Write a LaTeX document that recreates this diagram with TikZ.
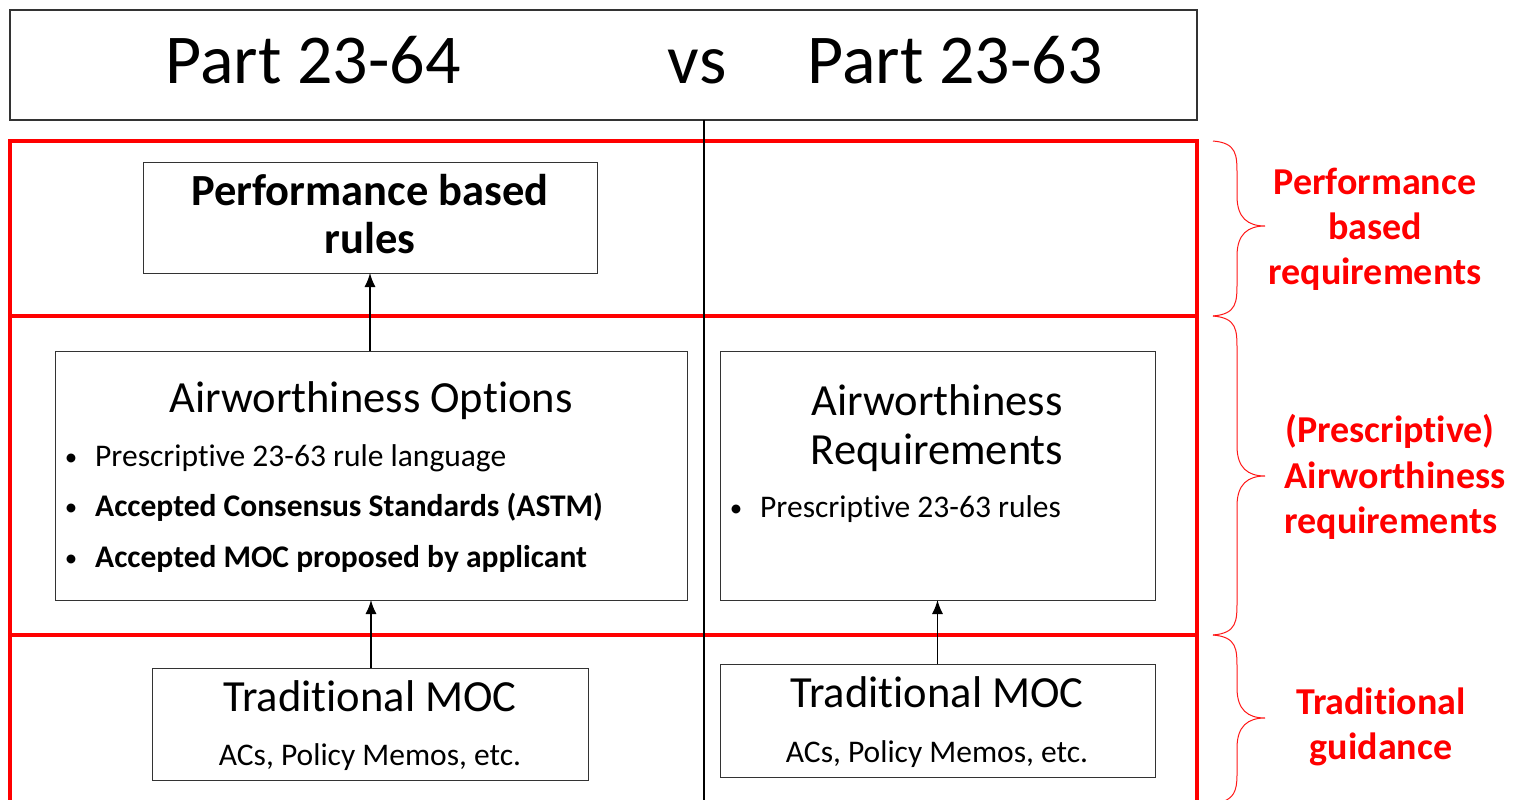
\documentclass[tikz,border=0pt]{standalone}
\usepackage{fontspec}
\setmainfont[Ligatures=NoCommon]{Carlito}
\usetikzlibrary{arrows.meta}
\begin{document}
\begin{tikzpicture}[x=1pt,y=-1pt,
  box/.style={draw=black!80, line width=1pt, inner sep=0pt, outer sep=0pt, anchor=north west},
  bandline/.style={draw=red, line width=3.2pt},
  bracecol/.style={draw=red!90, line width=1pt},
  lbl/.style={text=red, font=\fontsize{38}{46}\selectfont\bfseries, inner sep=0pt, anchor=base},
  big/.style={font=\fontsize{70}{80}\selectfont, inner sep=0pt, anchor=base},
  hd/.style={font=\fontsize{44.5}{49}\selectfont, inner sep=0pt, anchor=base},
  hdb/.style={font=\fontsize{44.5}{49}\selectfont\bfseries, inner sep=0pt, anchor=base},
  sm/.style={font=\fontsize{31.5}{36}\selectfont, inner sep=0pt, anchor=base},
  bul/.style={font=\fontsize{25}{30}\selectfont, inner sep=0pt, anchor=base},
  smb/.style={font=\fontsize{31.5}{36}\selectfont\bfseries, inner sep=0pt, anchor=base west},
  smw/.style={font=\fontsize{31.5}{36}\selectfont, inner sep=0pt, anchor=base west},
  arr/.style={-{Latex[length=14pt,width=11pt]}, line width=1.3pt}]
\useasboundingbox (0,0) rectangle (1521,800);
\fill[white] (0,0) rectangle (1521,800);

% top title box
\node[box, line width=1.3pt, minimum width=1187pt, minimum height=110pt] (top) at (10,10) {};
\node[big] (t1) at (313,84) {Part 23-64};
\node[big] (t2) at (697,84) {vs};
\node[big] (t3) at (955,84) {Part 23-63};

% red bands
\draw[bandline] (10,800) -- (10,141) -- (1197,141) -- (1197,800);
\draw[bandline] (10,316) -- (1197,316);
\draw[bandline] (10,635) -- (1197,635);

% vertical divider
\coordinate (vbot) at (704,800);
\draw[line width=1.4pt] (top.south -| vbot) -- (vbot);

% left column
\node[box, minimum width=454pt, minimum height=111pt] (perf) at (143,162) {};
\node[hdb] (perf1) at (370,205) {Performance based};
\node[hdb] (perf2) at (370,253) {rules};

\node[box, minimum width=632pt, minimum height=249pt] (opts) at (55,351) {};
\node[hd] (optsT) at (371,412) {Airworthiness Options};
\node[bul] (b1) at (71,465) {\textbullet};
\node[smw] (o1) at (95,466) {Prescriptive 23-63 rule language};
\node[bul] (b2) at (71,515) {\textbullet};
\node[smb] (o2) at (95,516) {Accepted Consensus Standards (ASTM)};
\node[bul] (b3) at (71,566) {\textbullet};
\node[smb] (o3) at (95,567) {Accepted MOC proposed by applicant};

\node[box, minimum width=436pt, minimum height=112pt] (tradL) at (152,668) {};
\node[hd] (tradL1) at (370,711) {Traditional MOC};
\node[sm] (tradL2) at (370,765) {ACs, Policy Memos, etc.};

% right column
\node[box, minimum width=435pt, minimum height=249pt] (req) at (720,351) {};
\node[hd] (req1) at (937,415) {Airworthiness};
\node[hd] (req2) at (937,464) {Requirements};
\node[bul] (b4) at (736,516) {\textbullet};
\node[smw] (r1) at (760,517) {Prescriptive 23-63 rules};

\node[box, minimum width=435pt, minimum height=113pt] (tradR) at (720,664) {};
\node[hd] (tradR1) at (937,707) {Traditional MOC};
\node[sm] (tradR2) at (937,762) {ACs, Policy Memos, etc.};

% arrows
\draw[arr] (opts.north -| perf.south) -- (perf.south);
\draw[arr] (tradL.north -| opts.south) -- (opts.south);
\draw[arr] (tradR.north -| req.south) -- (req.south);

% braces
\draw[bracecol] (1213,141) .. controls (1237,143) and (1237,155) .. (1237,175)
  -- (1237,196) .. controls (1237,218) and (1248,226) .. (1265,226)
  .. controls (1248,226) and (1237,234) .. (1237,256)
  -- (1237,282) .. controls (1237,302) and (1237,314) .. (1213,316);
\draw[bracecol] (1213,316) .. controls (1237,318) and (1237,330) .. (1237,350)
  -- (1237,446) .. controls (1237,468) and (1248,476) .. (1265,476)
  .. controls (1248,476) and (1237,484) .. (1237,506)
  -- (1237,601) .. controls (1237,621) and (1237,633) .. (1213,635);
\draw[bracecol] (1213,635) .. controls (1237,637) and (1237,649) .. (1237,669)
  -- (1237,688) .. controls (1237,710) and (1248,718) .. (1265,718)
  .. controls (1248,718) and (1237,726) .. (1237,748)
  -- (1237,775) .. controls (1237,792) and (1233,798) .. (1222,802);

% red labels
\node[lbl] (l1a) at (1375,194) {Performance};
\node[lbl] (l1b) at (1375,239) {based};
\node[lbl] (l1c) at (1375,284) {requirements};
\node[lbl] (l2a) at (1390,442) {(Prescriptive)};
\node[lbl] (l2b) at (1395,488) {Airworthiness};
\node[lbl] (l2c) at (1391,533) {requirements};
\node[lbl] (l3a) at (1381,714) {Traditional};
\node[lbl] (l3b) at (1381,759) {guidance};
\end{tikzpicture}
\end{document}
